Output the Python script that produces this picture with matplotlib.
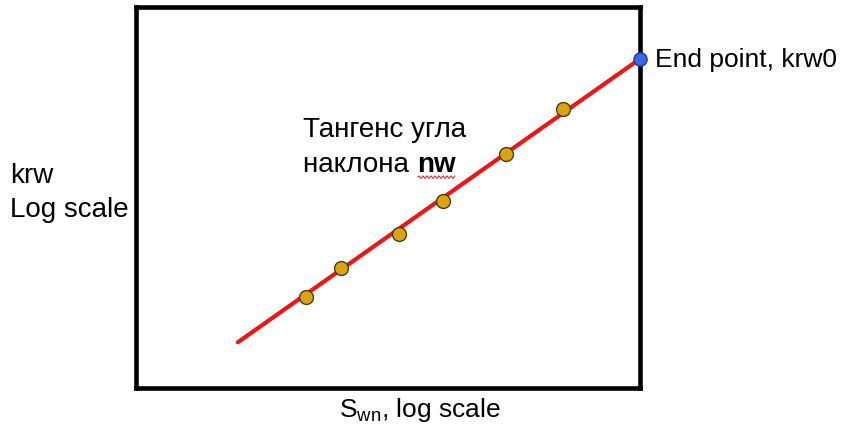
import matplotlib
matplotlib.use("Agg")
import matplotlib.pyplot as plt
import numpy as np

plt.rcParams['font.family'] = ['Liberation Sans', 'DejaVu Sans']
plt.rcParams['mathtext.fontset'] = 'custom'
plt.rcParams['mathtext.rm'] = 'Liberation Sans'

# log(Swn) / log(krw), scaled to the frame (0..1)
line_x = [0.202, 1.0]
line_y = [0.120, 0.864]
pts_x = [0.337, 0.407, 0.522, 0.609, 0.734, 0.847]
pts_y = [0.238, 0.314, 0.403, 0.492, 0.615, 0.733]
end_x = [1.0]
end_y = [0.864]

fig = plt.figure(figsize=(8.44, 4.33), dpi=100)
ax = fig.add_axes([136 / 844, 1 - 388 / 433, 504 / 844, 381 / 433])
ax.set_xlim(0, 1)
ax.set_ylim(0, 1)
ax.set_xticks([])
ax.set_yticks([])
for s in ax.spines.values():
    s.set_linewidth(3.3)
    s.set_color('black')

ax.plot(line_x, line_y, color='#f01515', lw=3, solid_capstyle='round', zorder=2)
ax.plot(pts_x, pts_y, 'o', ms=10, mfc='#d9a410', mec='#4a3a10', mew=1, zorder=3)
ax.plot(end_x, end_y, 'o', ms=9.5, mfc='#3a66e8', mec='#1c3a9a', mew=1,
        clip_on=False, zorder=4)

fs = 20
ax.text(0.332, 0.678, 'Тангенс угла', fontsize=fs, transform=ax.transAxes,
        ha='left', va='center')
t1 = ax.text(0.332, 0.585, 'наклона ', fontsize=fs, transform=ax.transAxes,
             ha='left', va='center')
fig.canvas.draw()
bb = t1.get_window_extent()
t2 = fig.text(bb.x1 / 844, (bb.y0 + bb.y1) / 2 / 433, 'nw', fontsize=fs,
              fontweight='bold', ha='left', va='center')
fig.canvas.draw()
bb2 = t2.get_window_extent()
# spell-check squiggle under "nw"
wx = np.linspace(bb2.x0 + 1, bb2.x1 - 1, 60)
wy = bb2.y0 + 1 + 1.2 * np.sin((wx - wx[0]) * 2 * np.pi / 4)
fig.add_artist(plt.Line2D(wx / 844, wy / 433, color='#e03030', lw=0.8))

fig.text(655 / 844, 1 - 60 / 433, 'End point, krw0', fontsize=19,
         ha='left', va='center')
fig.text(10 / 844, 1 - 176 / 433, 'krw', fontsize=fs, ha='left', va='center')
fig.text(10 / 844, 1 - 210 / 433, 'Log scale', fontsize=fs, ha='left', va='center')
fig.text(420 / 844, 1 - 410 / 433, r'S$_{\rm wn}$, log scale', fontsize=19,
         ha='center', va='center')

fig.savefig('out.png', dpi=100)
